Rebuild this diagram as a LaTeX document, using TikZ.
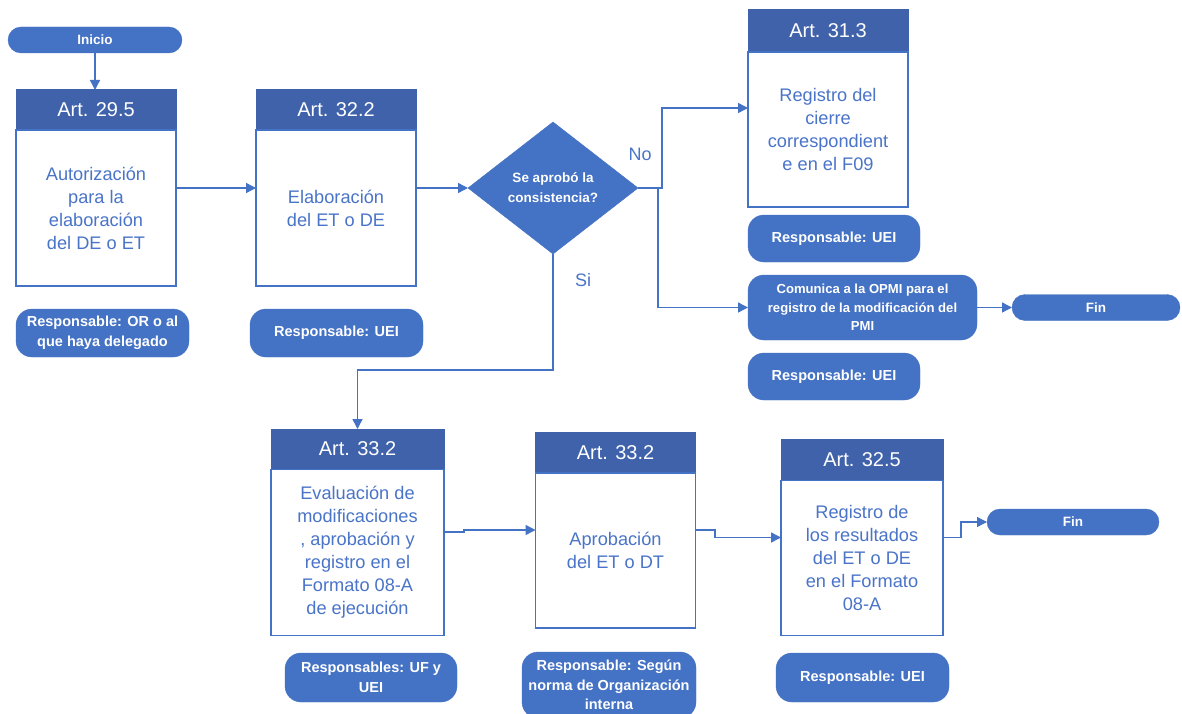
\documentclass[tikz,border=0pt]{standalone}
\usepackage{fontspec}
\setmainfont{Liberation Sans}
\usetikzlibrary{arrows.meta,shapes.geometric}
\definecolor{fillblue}{HTML}{4472C4}
\definecolor{hdrblue}{HTML}{3F62AB}
\definecolor{lineblue}{HTML}{4472C4}
\definecolor{txtblue}{HTML}{4A74C8}
\begin{document}
\begin{tikzpicture}[x=1pt,y=-1pt,
  every node/.style={inner sep=0pt, outer sep=0pt},
  hdr/.style={rectangle, fill=hdrblue, draw=hdrblue, line width=1pt, text=white, font=\fontsize{20}{24}\selectfont},
  body/.style={rectangle, fill=white, draw=lineblue, line width=1.3pt, text=txtblue, font=\fontsize{18.2}{23}\selectfont, align=center},
  pill/.style={rectangle, rounded corners=13pt, fill=fillblue, draw=fillblue, text=white, font=\bfseries\fontsize{13.5}{19}\selectfont, align=center},
  resp/.style={rectangle, rounded corners=16pt, fill=fillblue, draw=fillblue, text=white, font=\bfseries\fontsize{14.5}{19.5}\selectfont, align=center},
  conn/.style={draw=lineblue, line width=1.4pt},
  arr/.style={conn, -{Triangle[length=10pt,width=10pt]}},
  lbl/.style={text=txtblue, font=\fontsize{18}{22}\selectfont}
]
\clip (0,0) rectangle (1182,714);
\fill[white] (0,0) rectangle (1182,714);

% start
\node[pill, minimum width=174pt, minimum height=26pt] (ini) at (95,40) {Inicio};

% box 1
\node[hdr, minimum width=160pt, minimum height=40pt] (h1) at (96,110) {Art. 29.5};
\node[body, minimum width=160pt, minimum height=156pt] (b1) at (96,208) {Autorización\\para la\\elaboración\\del DE o ET};
\node[resp, minimum width=173pt, minimum height=48pt] (r1) at (102.5,333) {Responsable: OR o al\\que haya delegado};

% box 2
\node[hdr, minimum width=160pt, minimum height=40pt] (h2) at (336,110) {Art. 32.2};
\node[body, minimum width=160pt, minimum height=156pt] (b2) at (336,208) {Elaboración\\del ET o DE};
\node[resp, minimum width=173pt, minimum height=48pt] (r2) at (336.5,333) {Responsable: UEI};

% decision
\node[diamond, fill=fillblue, draw=fillblue, minimum width=170pt, minimum height=132pt, text=white, font=\bfseries\fontsize{13.5}{20}\selectfont, align=center] (dia) at (553,188) {Se aprobó la\\consistencia?};
\node[lbl] (no) at (640,154) {No};
\node[lbl] (si) at (583,280) {Si};

% box 31.3
\node[hdr, minimum width=160pt, minimum height=42pt] (h31) at (828,31) {Art. 31.3};
\node[body, minimum width=160pt, minimum height=155pt] (b31) at (828,129.5) {Registro del\\cierre\\correspondient\\e en el F09};
\node[resp, minimum width=172pt, minimum height=47pt] (r31) at (834,238.5) {Responsable: UEI};
\node[resp, font=\bfseries\fontsize{13.1}{18.5}\selectfont, minimum width=229pt, minimum height=65pt] (com) at (862.5,307.5) {Comunica a la OPMI para el\\registro de la modificación del\\PMI};
\node[resp, minimum width=172pt, minimum height=47pt] (rcom) at (834,376.5) {Responsable: UEI};
\node[pill, minimum width=168pt, minimum height=26pt] (fin1) at (1096,307.5) {Fin};

% box L
\node[hdr, minimum width=173pt, minimum height=40pt] (hL) at (357.5,449) {Art. 33.2};
\node[body, minimum width=173pt, minimum height=166pt] (bL) at (357.5,552.5) {Evaluación de\\modificaciones\\, aprobación y\\registro en el\\Formato 08-A\\de ejecución};
\node[resp, minimum width=172pt, minimum height=49pt] (rL) at (371,677.5) {Responsables: UF y\\UEI};

% box M
\node[hdr, minimum width=160pt, minimum height=41pt] (hM) at (615.5,452.5) {Art. 33.2};
\node[body, minimum width=160pt, minimum height=155pt] (bM) at (615.5,550.5) {Aprobación\\del ET o DT};
\node[resp, minimum width=174pt, minimum height=66pt] (rM) at (609,685) {Responsable: Según\\norma de Organización\\interna};

% box R
\node[hdr, minimum width=162pt, minimum height=41pt] (hR) at (862,460) {Art. 32.5};
\node[body, minimum width=162pt, minimum height=155pt] (bR) at (862,558) {Registro de\\los resultados\\del ET o DE\\en el Formato\\08-A};
\node[resp, minimum width=173pt, minimum height=49pt] (rR) at (862.5,677.5) {Responsable: UEI};
\node[pill, minimum width=172pt, minimum height=26pt] (fin2) at (1073,522) {Fin};

% connector coordinates
\coordinate (y1) at (216,188);
\coordinate (nA) at (662,188);
\coordinate (nB) at (658,188);
\coordinate (n31) at (700,108);
\coordinate (s1) at (553,370);
\coordinate (jA) at (464,532);
\coordinate (jB) at (464,530);
\coordinate (jC) at (715,530);
\coordinate (jD) at (715,537.5);
\coordinate (jE) at (961,537.5);
\coordinate (jF) at (961,522);

% connectors
\draw[arr] (ini.south) -- (ini.south |- h1.north);
\draw[arr] (b1.east |- y1) -- (b2.west |- y1);
\draw[arr] (b2.east |- dia.west) -- (dia.west);
\draw[arr] (dia.east) -- (nA) |- (b31.west |- n31);
\draw[arr] (nB) |- (com.west);
\draw[arr] (com.east) -- (fin1.west);
\draw[arr] (dia.south) -- (s1) -| (hL.north);
\draw[arr] (bL.east |- jA) -- (jA) -- (jB) -- (bM.west |- jB);
\draw[arr] (bM.east |- jC) -- (jC) -- (jD) -- (bR.west |- jD);
\draw[arr] (bR.east |- jE) -- (jE) -- (jF) -- (fin2.west);
\end{tikzpicture}
\end{document}
